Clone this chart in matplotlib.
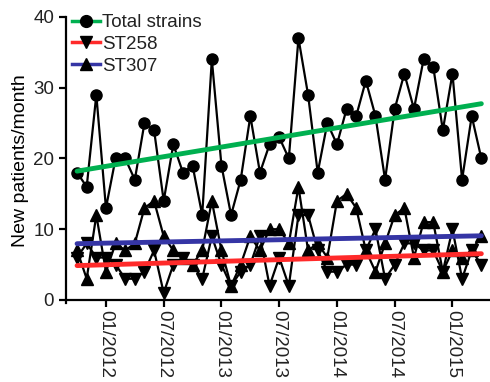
import numpy as np
import matplotlib
matplotlib.use("Agg")
import matplotlib.pyplot as plt
from matplotlib.lines import Line2D

plt.rcParams['font.family'] = ['Liberation Sans', 'DejaVu Sans']
plt.rcParams['text.color'] = '#222222'
plt.rcParams['xtick.labelcolor'] = '#222222'
plt.rcParams['ytick.labelcolor'] = '#222222'

# monthly counts, Oct 2011 .. Apr 2015
months = np.arange(43)
total = [18, 16, 29, 13, 20, 20, 17, 25, 24, 14, 22, 18, 19, 12, 34, 19, 12, 17, 26, 18, 22,
         23, 20, 37, 29, 18, 25, 22, 27, 26, 31, 26, 17, 27, 32, 27, 34, 33, 24, 32, 17, 26, 20]
st258 = [6, 8, 6, 6, 5, 3, 3, 4, 7, 1, 5, 6, 5, 3, 9, 5, 2, 4, 5, 9, 2,
         6, 2, 12, 12, 7, 4, 4, 5, 5, 7, 10, 3, 5, 8, 8, 7, 7, 4, 10, 3, 7, 5]
st307 = [7, 3, 12, 4, 8, 7, 8, 13, 14, 9, 7, 6, 5, 7, 14, 7, 2, 5, 9, 7, 10,
         10, 8, 16, 7, 8, 6, 14, 15, 13, 7, 4, 8, 12, 13, 6, 11, 11, 4, 7, 6, 7, 9]
tick_pos = [3, 9, 15, 21, 27, 33, 39]
tick_labels = ["01/2012", "07/2012", "01/2013", "07/2013", "01/2014", "07/2014", "01/2015"]

series = [
    (total, 'o', '#00b050', 'Total strains'),
    (st258, 'v', '#ff2a2a', 'ST258'),
    (st307, '^', '#3535a5', 'ST307'),
]

fig = plt.figure(figsize=(4.9, 3.82), dpi=100)
ax = fig.add_axes([0.1347, 0.2055, 0.8653, 0.75])

handles = []
for vals, mk, col, lab in series:
    ax.plot(months, vals, color='black', lw=1.6, marker=mk, ms=8,
            markerfacecolor='black', markeredgecolor='black', zorder=3)
    slope, icpt = np.polyfit(months, vals, 1)
    ax.plot([months[0], months[-1]], [icpt, icpt + slope * months[-1]],
            color=col, lw=3.5, solid_capstyle='round', zorder=4)
    handles.append(Line2D([], [], color=col, lw=2.5, marker=mk, ms=8.5,
                          markerfacecolor='black', markeredgecolor='black', label=lab))

ax.set_xlim(-1.15, 42.9)
ax.set_ylim(-0.5, 40)
ax.spines['bottom'].set_position(('data', 0))
ax.spines['top'].set_visible(False)
ax.spines['right'].set_visible(False)
for s in ['left', 'bottom']:
    ax.spines[s].set_linewidth(1.6)

ax.set_yticks([0, 10, 20, 30, 40])
ax.set_xticks(tick_pos)
ax.set_xticklabels(tick_labels, rotation=-90)
ax.tick_params(axis='both', labelsize=13.5, width=1.6, length=5, direction='out')
ax.tick_params(axis='x', pad=2)
ax.set_ylabel("New patients/month", fontsize=14, labelpad=3)

ax.legend(handles=handles, loc='upper left', bbox_to_anchor=(0.0, 1.03),
          frameon=False, fontsize=13.5, handlelength=1.5, handletextpad=0.1,
          labelspacing=0.25, borderaxespad=0, borderpad=0.3)

fig.savefig("out.png", dpi=100)
